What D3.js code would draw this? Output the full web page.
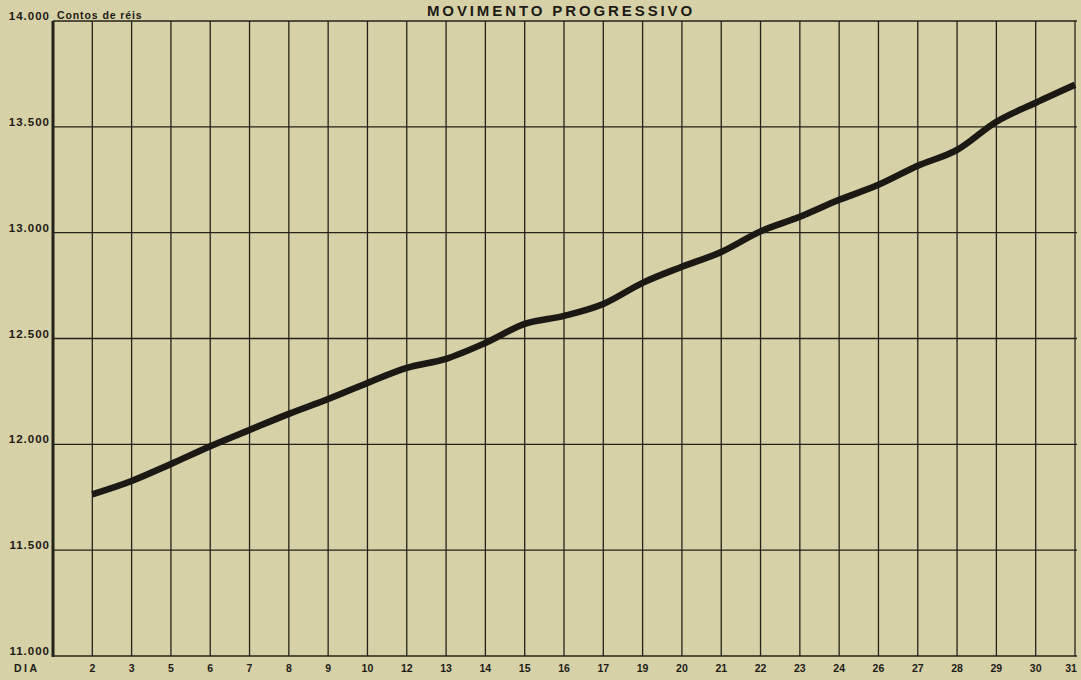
<!DOCTYPE html>
<html><head><meta charset="utf-8">
<script src="https://cdn.jsdelivr.net/npm/d3@7"></script>
<style>
html,body{margin:0;padding:0;background:#d6d1a7;}
svg{display:block;}
text{font-family:"Liberation Sans","DejaVu Sans",sans-serif;font-weight:bold;fill:#1d1b16;}
</style></head>
<body>
<svg id="c" width="1081" height="680"></svg>
<script>
const days = ["2","3","5","6","7","8","9","10","12","13","14","15","16","17","19","20","21","22","23","24","26","27","28","29","30","31"];
const values = [11764,11827,11907,11991,12068,12144,12214,12290,12361,12404,12479,12569,12607,12663,12763,12839,12909,13006,13075,13155,13226,13316,13391,13524,13614,13699];
const yTicks = [11000,11500,12000,12500,13000,13500,14000];
const yTickLabels = ["11.000","11.500","12.000","12.500","13.000","13.500","14.000"];
const title = "MOVIMENTO PROGRESSIVO";
const unitLabel = "Contos de réis";
const xAxisName = "DIA";

(function(){
const svg = d3.select("#c");
const W = 1081, H = 680;
svg.append("rect").attr("width",W).attr("height",H).attr("fill","#d6d1a7");

const pL = 53, pR = 1075, pT = 21, pB = 656;
const x = d3.scaleLinear().domain([-1, days.length-1]).range([pL, pR]);
const y = d3.scaleLinear().domain([11000,14000]).range([pB, pT]);

const ink = "#25221b";
svg.append("g").selectAll("line").data(yTicks).join("line")
  .attr("x1",pL).attr("x2",pR+2)
  .attr("y1",d=>y(d)).attr("y2",d=>y(d))
  .attr("stroke",ink).attr("stroke-width",1.3);
svg.append("g").selectAll("line").data(days).join("line")
  .attr("x1",(d,i)=>x(i)).attr("x2",(d,i)=>x(i))
  .attr("y1",pT).attr("y2",pB)
  .attr("stroke",ink).attr("stroke-width",1.3);
svg.append("line").attr("x1",pL).attr("x2",pL).attr("y1",pT).attr("y2",pB+1)
  .attr("stroke",ink).attr("stroke-width",3);

svg.append("g").selectAll("text").data(yTicks).join("text")
  .attr("x",pL-3).attr("y",d=>y(d)-1)
  .attr("text-anchor","end").attr("font-size",11.5).attr("letter-spacing",1)
  .text((d,i)=>yTickLabels[i]);
svg.append("text").attr("x",pL+4).attr("y",pT-2).attr("font-size",10.5).attr("letter-spacing",0.9)
  .text(unitLabel);

svg.append("g").selectAll("text").data(days).join("text")
  .attr("x",(d,i)=>i===days.length-1 ? x(i)-4 : x(i)).attr("y",672)
  .attr("text-anchor","middle").attr("font-size",10.5)
  .text(d=>d);
svg.append("text").attr("x",14).attr("y",672).attr("font-size",10.5).attr("letter-spacing",2.5).text(xAxisName);

svg.append("text").attr("x",561).attr("y",16).attr("text-anchor","middle")
  .attr("font-size",15).attr("letter-spacing",2.9).text(title);

const line = d3.line().x((d,i)=>x(i)).y(d=>y(d)).curve(d3.curveMonotoneX);
svg.append("path").datum(values).attr("d",line)
  .attr("fill","none").attr("stroke","#1c1915").attr("stroke-width",6.5)
  .attr("stroke-linejoin","round").attr("stroke-linecap","butt");
})();
</script>
</body></html>
